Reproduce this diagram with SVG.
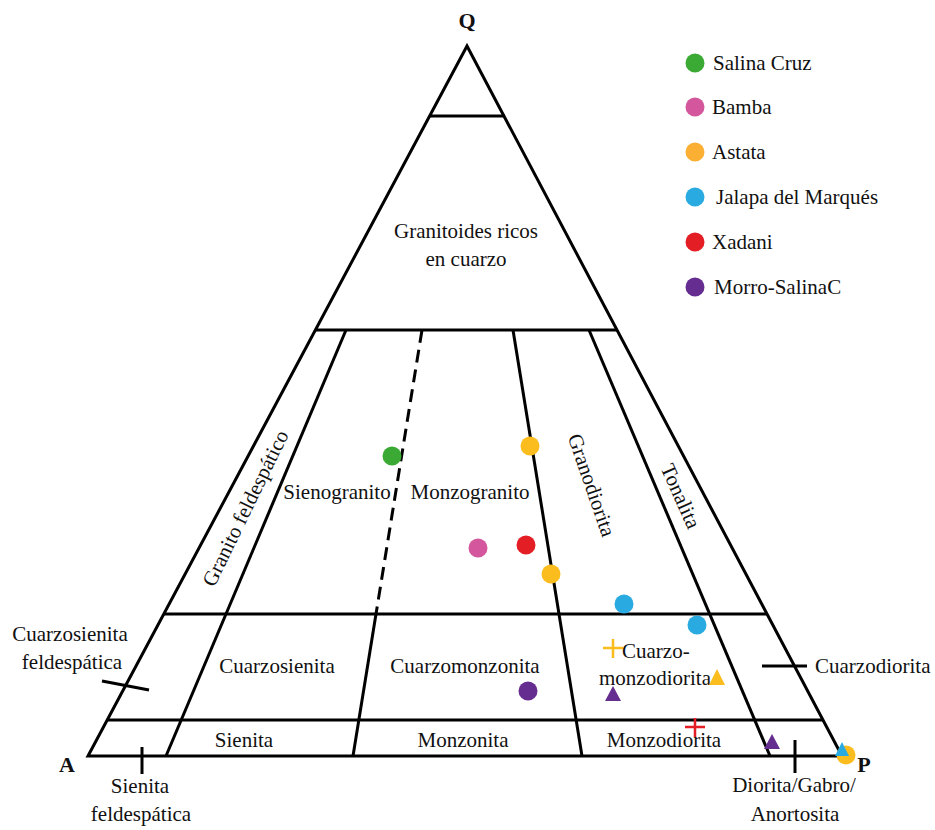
<svg xmlns="http://www.w3.org/2000/svg" width="935" height="830" viewBox="0 0 935 830">
<style>
.ln{stroke:#000;stroke-width:3;fill:none;stroke-linecap:butt}
.t{font-family:"Liberation Serif","Times New Roman",serif;font-size:21px;fill:#111}
.m{text-anchor:middle}
.v{font-weight:bold;font-size:22px}
</style>
<rect width="935" height="830" fill="#fff"/>
<g id="frame">
<polygon class="ln" points="88,756 467,46 842,756" stroke-linejoin="miter"/>
<line class="ln" x1="429" y1="116" x2="505" y2="116"/>
<line class="ln" x1="315" y1="330" x2="617" y2="330"/>
<line class="ln" x1="164" y1="614" x2="767" y2="614"/>
<line class="ln" x1="107" y1="720" x2="823" y2="720"/>
<line class="ln" x1="346" y1="330" x2="166" y2="756"/>
<line class="ln" x1="422" y1="330" x2="376" y2="614" stroke-dasharray="13,7"/>
<line class="ln" x1="376" y1="614" x2="353" y2="756"/>
<line class="ln" x1="513" y1="330" x2="582" y2="756"/>
<line class="ln" x1="589" y1="330" x2="770" y2="756"/>
<line class="ln" x1="102" y1="681" x2="149" y2="690" stroke-width="2"/>
<line class="ln" x1="142" y1="747" x2="142" y2="774" stroke-width="2"/>
<line class="ln" x1="762" y1="666" x2="807" y2="666" stroke-width="2"/>
<line class="ln" x1="795" y1="740" x2="795" y2="773" stroke-width="2"/>
</g>
<g id="vertices">
<text class="t m v" x="467" y="28">Q</text>
<text class="t m v" x="67" y="772">A</text>
<text class="t m v" x="864" y="772">P</text>
</g>
<g id="labels">
<text class="t m" x="466" y="238">Granitoides ricos</text>
<text class="t m" x="466" y="266">en cuarzo</text>
<text class="t m" x="337" y="499">Sienogranito</text>
<text class="t m" x="470" y="499">Monzogranito</text>
<text class="t m" transform="translate(245,508) rotate(-64)" dy="0.35em">Granito feldespático</text>
<text class="t m" transform="translate(592,485) rotate(71)" dy="0.35em">Granodiorita</text>
<text class="t m" transform="translate(681,496) rotate(66)" dy="0.35em">Tonalita</text>
<text class="t m" x="277" y="673">Cuarzosienita</text>
<text class="t m" x="465" y="673">Cuarzomonzonita</text>
<text class="t" x="622" y="658">Cuarzo-</text>
<text class="t m" x="655" y="685">monzodiorita</text>
<text class="t" x="815" y="673">Cuarzodiorita</text>
<text class="t m" x="244" y="747">Sienita</text>
<text class="t m" x="463" y="747">Monzonita</text>
<text class="t m" x="664" y="747">Monzodiorita</text>
<text class="t m" x="70" y="641">Cuarzosienita</text>
<text class="t m" x="72" y="669">feldespática</text>
<text class="t m" x="140" y="793">Sienita</text>
<text class="t m" x="141" y="821">feldespática</text>
<text class="t m" x="794" y="792">Diorita/Gabro/</text>
<text class="t m" x="795" y="821">Anortosita</text>
</g>
<g id="legend">
<circle cx="695" cy="63" r="9.5" fill="#3aaa35"/>
<text class="t" x="713" y="70">Salina Cruz</text>
<circle cx="695" cy="107" r="9.5" fill="#d4569c"/>
<text class="t" x="712" y="114">Bamba</text>
<circle cx="695" cy="152" r="9.5" fill="#fbb034"/>
<text class="t" x="712" y="159">Astata</text>
<circle cx="695" cy="197" r="9.5" fill="#29abe2"/>
<text class="t" x="716" y="204">Jalapa del Marqués</text>
<circle cx="695" cy="242" r="9.5" fill="#e31e24"/>
<text class="t" x="712" y="249">Xadani</text>
<circle cx="695" cy="287" r="9.5" fill="#662d91"/>
<text class="t" x="714" y="294">Morro-SalinaC</text>
</g>
<g id="points">
<circle cx="392" cy="456" r="9.5" fill="#3aaa35"/>
<circle cx="530" cy="446" r="9.5" fill="#fbbd1e"/>
<circle cx="478" cy="548" r="9.5" fill="#d4569c"/>
<circle cx="526" cy="545" r="9.5" fill="#e31e24"/>
<circle cx="551" cy="574" r="9.5" fill="#fbbd1e"/>
<circle cx="624" cy="604" r="9.5" fill="#29abe2"/>
<circle cx="697" cy="625" r="9.5" fill="#29abe2"/>
<circle cx="528" cy="691" r="9.5" fill="#662d91"/>
<path d="M603,648 H623 M613,639 V658" stroke="#fbbd1e" stroke-width="2.5"/>
<path d="M685,727 H705 M695,718 V737" stroke="#e31e24" stroke-width="2.5"/>
<polygon points="717,669 725,685 709,685" fill="#fbbd1e"/>
<polygon points="613,686 621,701 605,701" fill="#662d91"/>
<polygon points="772,734 780,749 764,749" fill="#662d91"/>
<circle cx="846" cy="755" r="9.5" fill="#fbbd1e"/>
<polygon points="842,742 849,756 835,756" fill="#29abe2"/>
</g>
</svg>
